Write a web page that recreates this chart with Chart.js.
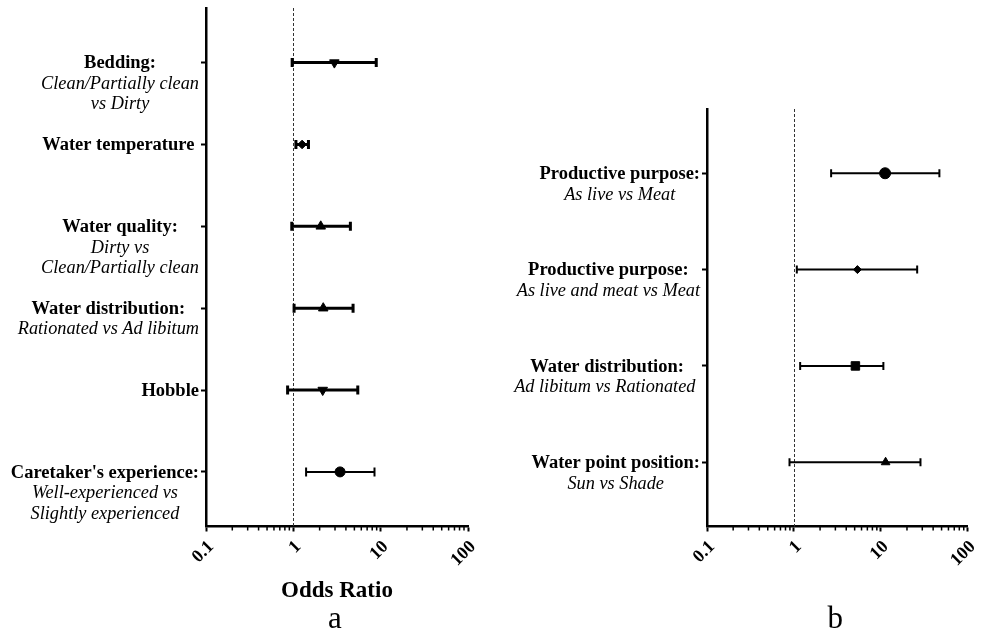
<!DOCTYPE html>
<html>
<head>
<meta charset="utf-8">
<script src="https://cdn.jsdelivr.net/npm/chart.js@4.4.0/dist/chart.umd.min.js"></script>
<style>
  body { margin: 0; background: #fff; }
  #wrap { position: relative; width: 988px; height: 631px; }
  #chartA { position: absolute; left: 0; top: 0; }
  #chartB { position: absolute; left: 494px; top: 0; }
</style>
</head>
<body>
<div id="wrap">
  <canvas id="chartA" width="494" height="631"></canvas>
  <canvas id="chartB" width="494" height="631"></canvas>
</div>
<script>
// tick labels of the odds ratio axis
const xTicks = [0.1, 1, 10, 100];

// panel a
const leftTitles = ['Bedding:', 'Water temperature ', 'Water quality:', 'Water distribution:', 'Hobble', "Caretaker's experience:"];
const leftSubtitles = [
  ['Clean/Partially clean', 'vs Dirty'],
  [],
  ['Dirty vs', 'Clean/Partially clean'],
  ['Rationated vs Ad libitum'],
  [],
  ['Well-experienced vs', 'Slightly experienced']
];
const leftOR = [2.95, 1.26, 2.06, 2.2, 2.17, 3.43];
const leftLower = [0.97, 1.07, 0.96, 1.02, 0.86, 1.4];
const leftUpper = [8.9, 1.49, 4.5, 4.83, 5.47, 8.5];

// panel b
const rightTitles = ['Productive purpose:', 'Productive purpose:', 'Water distribution:', 'Water point position:'];
const rightSubtitles = [
  ['As live vs Meat'],
  ['As live and meat vs Meat'],
  ['Ad libitum vs Rationated '],
  ['Sun vs Shade']
];
const rightOR = [11.2, 5.38, 5.1, 11.35];
const rightLower = [2.68, 1.08, 1.18, 0.89];
const rightUpper = [47.2, 26.2, 10.7, 28.6];

const serif = '"Liberation Serif", "Times New Roman", serif';

function forestChart(id, p) {
  const n = p.or.length;

  const forestPlugin = {
    id: 'forest',
    beforeDatasetsDraw(chart) {
      const ctx = chart.ctx, xs = chart.scales.x, ys = chart.scales.y, a = chart.chartArea;
      ctx.save();
      // dashed line at OR = 1
      const x1 = Math.round(xs.getPixelForValue(1)) + 0.5;
      ctx.strokeStyle = '#333';
      ctx.lineWidth = 1;
      ctx.setLineDash([3, 2]);
      ctx.beginPath();
      ctx.moveTo(x1, a.top);
      ctx.lineTo(x1, a.bottom);
      ctx.stroke();
      ctx.setLineDash([]);

      // minor ticks on the log axis
      ctx.strokeStyle = '#000';
      ctx.lineWidth = 1.5;
      [0.1, 1, 10].forEach(d => {
        for (let k = 2; k <= 9; k++) {
          const mx = xs.getPixelForValue(d * k);
          ctx.beginPath();
          ctx.moveTo(mx, a.bottom);
          ctx.lineTo(mx, a.bottom + 4);
          ctx.stroke();
        }
      });

      // confidence intervals
      for (let i = 0; i < n; i++) {
        const yy = ys.getPixelForValue(i);
        const xl = xs.getPixelForValue(p.lower[i]);
        const xh = xs.getPixelForValue(p.upper[i]);
        ctx.lineWidth = p.barWidth[i];
        ctx.beginPath();
        ctx.moveTo(xl, yy);
        ctx.lineTo(xh, yy);
        ctx.moveTo(xl, yy - p.cap);
        ctx.lineTo(xl, yy + p.cap);
        ctx.moveTo(xh, yy - p.cap);
        ctx.lineTo(xh, yy + p.cap);
        ctx.stroke();
      }
      ctx.restore();
    },
    afterDraw(chart) {
      const ctx = chart.ctx, ys = chart.scales.y, a = chart.chartArea;
      ctx.save();
      ctx.fillStyle = '#000';
      ctx.textBaseline = 'middle';
      ctx.textAlign = 'center';
      const bold = 'bold 18.5px ' + serif, ital = 'italic 18.3px ' + serif;
      for (let i = 0; i < n; i++) {
        const lines = [[p.titles[i], bold]].concat(p.subs[i].map(s => [s, ital]));
        let w = 0;
        lines.forEach(l => { ctx.font = l[1]; w = Math.max(w, ctx.measureText(l[0]).width); });
        const cx = a.left - 7 - w / 2;
        const yy = ys.getPixelForValue(i) + 1;
        lines.forEach((l, j) => {
          ctx.font = l[1];
          ctx.fillText(l[0], cx, yy + j * 20.5);
        });
      }
      const mid = (a.left + a.right) / 2;
      ctx.textBaseline = 'alphabetic';
      if (p.xTitle) {
        ctx.font = 'bold 23px ' + serif;
        ctx.fillText(p.xTitle, mid, 597);
      }
      ctx.font = '31px ' + serif;
      ctx.fillText(p.letter, mid - 2, 628);
      ctx.restore();
    }
  };

  return new Chart(document.getElementById(id), {
    type: 'scatter',
    data: {
      datasets: [{
        data: p.or.map((v, i) => ({ x: v, y: i })),
        pointStyle: p.markers,
        rotation: p.turns,
        pointRadius: p.radii,
        pointHoverRadius: p.radii,
        backgroundColor: '#000',
        borderColor: '#000',
        borderWidth: 1
      }]
    },
    options: {
      responsive: false,
      animation: false,
      events: [],
      layout: { padding: { top: p.top, right: p.right, left: 0, bottom: 0 } },
      plugins: { legend: { display: false }, tooltip: { enabled: false } },
      scales: {
        x: {
          type: 'logarithmic',
          min: 0.1,
          max: 100,
          afterBuildTicks: s => { s.ticks = xTicks.map(v => ({ value: v })); },
          afterFit: s => { s.height = 631 - 526.5; },
          grid: { drawOnChartArea: false, drawTicks: true, tickLength: 5, tickWidth: 2, tickColor: '#000' },
          border: { display: true, color: '#000', width: 2.5 },
          ticks: {
            color: '#000',
            minRotation: 45,
            maxRotation: 45,
            autoSkip: false,
            padding: 5,
            labelOffset: 5,
            font: { family: serif, size: 18, weight: 'bold' },
            callback: v => String(v)
          }
        },
        y: {
          type: 'linear',
          reverse: true,
          min: -0.667,
          max: n - 1 + 0.667,
          afterBuildTicks: s => { s.ticks = p.or.map((v, i) => ({ value: i })); },
          afterFit: s => { s.width = p.axisLeft; },
          ticks: { display: false },
          grid: { drawOnChartArea: false, drawTicks: true, tickLength: 5, tickWidth: 2, tickColor: '#000' },
          border: { display: true, color: '#000', width: 2.5 }
        }
      }
    },
    plugins: [forestPlugin]
  });
}

forestChart('chartA', {
  titles: leftTitles, subs: leftSubtitles,
  or: leftOR, lower: leftLower, upper: leftUpper,
  markers: ['triangle', 'rectRot', 'triangle', 'triangle', 'triangle', 'circle'],
  turns: [180, 0, 0, 0, 180, 0],
  radii: [5.5, 4.3, 5.5, 5.5, 5.5, 5],
  barWidth: [3, 3, 3, 3, 3, 2],
  cap: 4.5,
  top: 8, right: 26, axisLeft: 206,
  xTitle: 'Odds Ratio', letter: 'a'
});

forestChart('chartB', {
  titles: rightTitles, subs: rightSubtitles,
  or: rightOR, lower: rightLower, upper: rightUpper,
  markers: ['circle', 'rectRot', 'rect', 'triangle'],
  turns: [0, 0, 0, 0],
  radii: [5.5, 4, 6, 5],
  barWidth: [2, 2, 2, 2],
  cap: 4,
  top: 109, right: 20, axisLeft: 213,
  xTitle: '', letter: 'b'
});
</script>
</body>
</html>
